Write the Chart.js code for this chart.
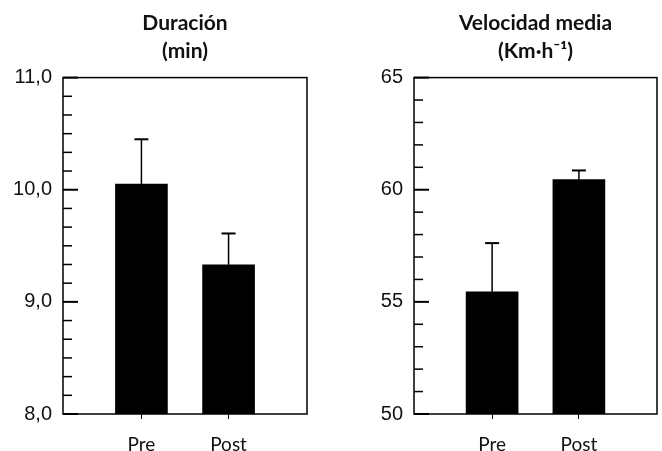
<!DOCTYPE html>
<html>
<head>
<meta charset="utf-8">
<script src="https://cdn.jsdelivr.net/npm/chart.js@4"></script>
<style>
  body { margin: 0; background: #fff; }
  .wrap { position: absolute; top: 0; width: 331px; height: 451px; }
</style>
</head>
<body>
<div class="wrap" style="left:0"><canvas id="durChart" width="331" height="451"></canvas></div>
<div class="wrap" style="left:331px"><canvas id="velChart" width="331" height="451"></canvas></div>
<script>
const categories = ['Pre', 'Post'];

// Duración (min)
const durValues = [10.05, 9.33];
const durErrTop = [10.45, 9.61];
const durTicks = [8, 9, 10, 11];
const durTickLabels = ['8,0', '9,0', '10,0', '11,0'];
const durMinorPerMajor = 6;

// Velocidad media (Km·h-1)
const velValues = [55.45, 60.45];
const velErrTop = [57.62, 60.86];
const velTicks = [50, 55, 60, 65];
const velTickLabels = ['50', '55', '60', '65'];
const velMinorPerMajor = 5;

// box, inward ticks and error bars
const decor = {
  id: 'decor',
  afterDatasetsDraw(chart, args, opts) {
    const ctx = chart.ctx;
    const a = chart.chartArea;
    const ys = chart.scales.y;
    const xs = chart.scales.x;
    ctx.save();
    ctx.strokeStyle = '#000';

    // error bars
    const values = chart.data.datasets[0].data;
    opts.err.forEach((e, i) => {
      const x = xs.getPixelForValue(values[i].x);
      const yTop = ys.getPixelForValue(e);
      const yBar = ys.getPixelForValue(values[i].y);
      ctx.lineWidth = 1.5;
      ctx.beginPath();
      ctx.moveTo(x, yBar);
      ctx.lineTo(x, yTop);
      ctx.stroke();
      ctx.lineWidth = 2;
      ctx.beginPath();
      ctx.moveTo(x - 7, yTop);
      ctx.lineTo(x + 7, yTop);
      ctx.stroke();
    });

    // inward ticks
    const majors = opts.majors;
    for (let k = 0; k < majors.length; k++) {
      const y = ys.getPixelForValue(majors[k]);
      ctx.lineWidth = 2;
      ctx.beginPath();
      ctx.moveTo(a.left, y);
      ctx.lineTo(a.left + 15, y);
      ctx.stroke();
      if (k < majors.length - 1) {
        const step = (majors[k + 1] - majors[k]) / opts.minor;
        for (let m = 1; m < opts.minor; m++) {
          const ym = ys.getPixelForValue(majors[k] + step * m);
          ctx.lineWidth = 1.5;
          ctx.beginPath();
          ctx.moveTo(a.left, ym);
          ctx.lineTo(a.left + 9, ym);
          ctx.stroke();
        }
      }
    }

    // frame
    ctx.lineWidth = 1.5;
    ctx.strokeRect(a.left, a.top, a.right - a.left, a.bottom - a.top);
    ctx.restore();
  }
};

function makeChart(id, title, values, errTop, ticks, tickLabels, minor, yWidth, padRight) {
  const ymin = ticks[0];
  const ymax = ticks[ticks.length - 1];
  return new Chart(document.getElementById(id), {
    type: 'bar',
    data: {
      datasets: [{
        data: values.map((v, i) => ({ x: i, y: v })),
        backgroundColor: '#000',
        borderWidth: 0,
        barThickness: 52
      }]
    },
    plugins: [decor],
    options: {
      responsive: false,
      animation: false,
      layout: { padding: { top: 0, right: padRight, bottom: 0, left: 0 } },
      plugins: {
        legend: { display: false },
        tooltip: { enabled: false },
        title: {
          display: true,
          text: title,
          fullSize: false,
          color: '#111',
          font: { family: 'Lato', size: 21, weight: 'bold', lineHeight: 1.3 },
          padding: { top: 10, bottom: 13 }
        },
        decor: { err: errTop, majors: ticks, minor: minor }
      },
      scales: {
        x: {
          type: 'linear',
          min: -0.9,
          max: 1.9,
          offset: false,
          afterBuildTicks: s => { s.ticks = categories.map((c, i) => ({ value: i })); },
          afterFit: s => { s.height = 37; },
          grid: { offset: false, drawOnChartArea: false, drawTicks: true, tickLength: 5, color: '#000', lineWidth: 1 },
          border: { display: false },
          ticks: {
            padding: 14,
            color: '#111',
            font: { family: 'Lato', size: 19 },
            callback: v => categories[v] ?? ''
          }
        },
        y: {
          min: ymin,
          max: ymax,
          afterBuildTicks: s => { s.ticks = ticks.map(v => ({ value: v })); },
          afterFit: s => { s.width = yWidth; },
          grid: { display: false, drawTicks: false, tickLength: 0 },
          border: { display: false },
          ticks: {
            padding: 11,
            color: '#111',
            font: { family: 'Liberation Sans', size: 20 },
            callback: v => tickLabels[ticks.indexOf(v)]
          }
        }
      }
    }
  });
}

makeChart('durChart', ['Duración', '(min)'], durValues, durErrTop, durTicks, durTickLabels, durMinorPerMajor, 63, 24);
makeChart('velChart', ['Velocidad media', '(Km·h⁻¹)'], velValues, velErrTop, velTicks, velTickLabels, velMinorPerMajor, 83, 5);
</script>
</body>
</html>
